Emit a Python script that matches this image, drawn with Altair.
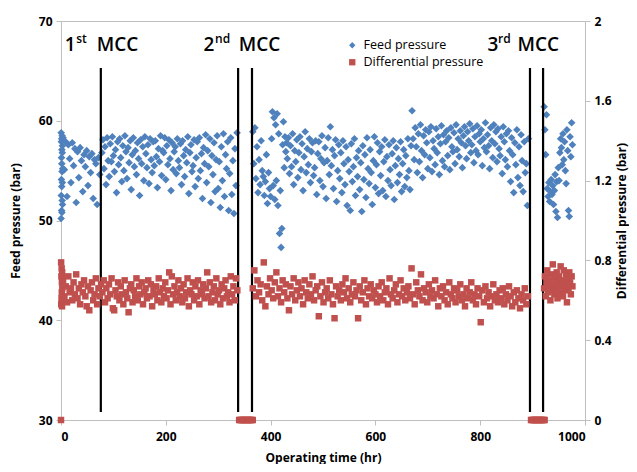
import altair as alt
import pandas as pd

BLUE = "#4f81bd"
RED = "#c0504d"
FONT = "Open Sans"

# ---------------- Feed pressure (bar) ----------------
# each segment: start time, time step
feed_a_start, feed_a_step = 0.2, 0.15
feed_a = [50.2, 58.8, 52.5, 57.9, 54.1, 56.3, 51.0, 58.2, 53.4, 55.7,
          57.1, 50.8, 54.9, 58.5, 52.0, 56.8, 53.8, 57.5, 51.6, 55.2]

feed_b_start, feed_b_step = 4, 2.5
feed_b = [58.3, 55.1, 57.9, 52.4, 57.6, 56.2, 53.8, 57.8, 55.5, 57.2,
          51.8, 56.9, 54.3, 57.3, 56.0, 52.9, 56.6, 55.4, 57.0, 53.5,
          56.4, 54.8, 56.7, 52.2, 56.1, 55.7, 51.6, 56.3, 54.6]

feed_c_start, feed_c_step = 78, 2
feed_c = [56.8, 58.1, 55.2, 57.4, 53.6, 58.3, 56.0, 54.4, 57.7, 55.9,
          58.4, 56.5, 54.9, 57.1, 52.8, 57.9, 55.6, 58.2, 56.3, 53.9,
          57.5, 55.0, 58.5, 56.9, 54.2, 57.3, 55.8, 58.0, 53.1, 56.6,
          58.3, 55.4, 57.0, 54.6, 57.8, 56.2, 52.5, 58.1, 55.7, 57.4,
          54.0, 58.4, 56.7, 55.3, 57.6, 53.7, 58.2, 56.1, 54.8, 57.9,
          55.5, 58.0, 56.4, 53.3, 57.2, 55.9, 58.5, 54.5, 57.0, 56.8,
          58.3, 54.1, 57.5, 55.6, 58.1, 56.2, 53.0, 57.8, 55.1, 56.9,
          57.4, 54.7, 58.2, 56.0, 55.3, 57.7, 53.6, 58.0, 56.5, 54.4,
          57.1, 55.8, 58.4, 52.7, 56.8, 57.6, 54.9, 55.5, 58.1, 53.4,
          56.3, 57.9, 54.2, 58.3, 55.0, 56.7, 52.2, 57.3, 55.7, 58.6,
          53.8, 57.0, 55.4, 58.2, 51.8, 56.5, 54.6, 57.8, 52.9, 56.1,
          58.5, 53.2, 55.9, 51.3, 57.4, 54.0, 58.7, 52.4, 56.6, 55.2,
          57.9, 51.0, 54.7, 58.3, 52.6, 56.0, 50.7, 57.2, 53.5, 58.8]

feed_d_start, feed_d_step = 366, 2
feed_d = [58.9, 55.7, 59.3, 54.2, 57.4, 52.8, 56.1, 53.6, 58.0, 55.0,
          54.4, 52.5, 53.9, 56.6, 51.7, 54.8, 53.2, 52.4]

feed_e_start, feed_e_step = 402, 1.5
feed_e = [58.2, 60.9, 53.5, 60.3, 52.1, 59.6, 54.0, 60.7, 51.5, 58.7,
          48.7, 53.0, 47.3, 49.2, 57.6, 59.9, 55.3, 58.4, 56.9, 57.8]

feed_f_start, feed_f_step = 432, 2
feed_f = [56.2, 58.3, 54.7, 57.5, 55.4, 58.7, 53.6, 57.0, 55.9, 58.1,
          54.3, 56.8, 58.4, 55.1, 57.7, 53.0, 56.4, 58.9, 54.8, 57.2,
          55.6, 58.2, 53.8, 56.9, 57.8, 54.5, 55.3, 58.0, 52.6, 56.7,
          57.9, 54.0, 56.2, 58.5, 53.4, 55.8, 57.3, 52.2, 56.0, 58.3,
          54.6, 59.4, 55.5, 57.1, 53.2, 56.5, 58.1, 51.9, 55.0, 57.6,
          54.2, 56.8, 52.8, 58.0, 55.7, 53.6, 57.4, 51.5, 56.1, 54.9,
          51.0, 57.7, 53.9, 55.4, 58.2, 52.5, 56.3, 54.4, 57.0, 53.1,
          55.8, 50.9, 57.5, 54.1, 56.6, 52.3, 58.3, 55.2, 53.7, 57.1,
          54.8, 51.6, 56.0, 58.4, 53.3, 55.6, 57.8, 52.7, 56.9, 54.5,
          57.4, 53.0, 55.9, 58.1, 52.4, 56.4, 54.0, 57.6, 55.1, 53.5,
          56.7, 58.0, 52.1, 55.5, 57.3, 53.8, 56.2, 54.6, 57.9, 52.9,
          55.7, 57.1, 53.4, 56.5, 54.3, 58.2, 55.0, 53.1, 57.5]

feed_g_start, feed_g_step = 670, 2
feed_g = [61.0, 58.2, 56.1, 59.3, 57.4, 54.8, 58.7, 55.9, 59.6, 57.0,
          54.3, 58.5, 56.6, 59.1, 57.8, 55.2, 58.9, 56.3, 59.4, 54.9,
          58.0, 57.2, 55.6, 59.2, 56.8, 58.4, 54.6, 57.7, 59.5, 56.0,
          58.6, 55.4, 57.9, 59.0, 56.5, 58.3, 55.1, 59.3, 57.4, 56.9,
          58.8, 55.7, 59.6, 57.1, 58.2, 56.4, 59.0, 57.8, 55.3, 58.5,
          59.4, 57.5, 56.2, 58.9, 58.0, 59.7, 56.8, 57.6, 59.2, 55.8,
          58.4, 57.0, 59.5, 56.6, 58.7, 57.9, 59.1, 55.5, 58.2, 57.3,
          59.8, 56.9, 58.6, 57.5, 55.2, 59.3, 58.0, 56.3, 59.6, 57.7,
          58.9, 55.9, 59.2, 57.2, 56.5, 58.4, 54.7, 59.4, 57.9, 56.1,
          58.7, 55.4, 59.0, 57.0, 53.9, 58.3, 56.6, 52.8, 57.8, 55.6,
          59.1, 54.3, 57.4, 53.5, 58.6, 56.0, 52.9, 57.9, 54.8, 55.7,
          51.5, 58.2]

feed_h_start, feed_h_step = 922, 1.5
feed_h = [61.4, 59.1, 56.6, 60.6, 53.2, 52.4, 53.8, 51.9, 52.9, 54.1,
          52.6, 53.5, 51.6, 53.0, 54.6, 50.9, 53.9, 50.3, 55.3, 54.0,
          56.8, 58.2, 57.3, 55.6, 58.7, 56.1, 57.9, 55.0, 53.7, 59.1,
          57.0, 51.0, 50.4, 58.4, 56.4, 59.8, 57.6]

# ---------------- Differential pressure (bar) ----------------
diff_a_start, diff_a_step = 0.25, 0.25
diff_a = [0.79, 0.58, 0.72, 0.61, 0.76, 0.64, 0.69, 0.57, 0.74, 0.66, 0.60, 0.71]

diff_b_start, diff_b_step = 4, 2.5
diff_b = [0.70, 0.62, 0.67, 0.59, 0.72, 0.64, 0.66, 0.60, 0.69, 0.63,
          0.73, 0.61, 0.66, 0.58, 0.68, 0.64, 0.70, 0.62, 0.57, 0.67,
          0.55, 0.65, 0.69, 0.60, 0.63, 0.71, 0.58, 0.66, 0.62, 0.68,
          0.64, 0.70, 0.59, 0.66, 0.61, 0.68, 0.63, 0.71, 0.56, 0.55,
          0.65, 0.62, 0.69, 0.60, 0.67, 0.63, 0.58, 0.70, 0.64, 0.61,
          0.54, 0.66, 0.68, 0.59, 0.65, 0.62, 0.71, 0.60, 0.67, 0.63,
          0.69, 0.58, 0.64, 0.66, 0.61, 0.70, 0.62, 0.68, 0.57, 0.65,
          0.63, 0.67, 0.60, 0.71, 0.64, 0.59, 0.66, 0.62, 0.69, 0.61,
          0.65, 0.74, 0.58, 0.72, 0.63, 0.67, 0.60, 0.64, 0.70, 0.62,
          0.66, 0.59, 0.68, 0.61, 0.64, 0.71, 0.57, 0.65, 0.63, 0.69,
          0.60, 0.67, 0.62, 0.70, 0.58, 0.65, 0.63, 0.68, 0.61, 0.66,
          0.74, 0.62, 0.69, 0.59, 0.64, 0.67, 0.60, 0.71, 0.63, 0.65,
          0.58, 0.68, 0.61, 0.66, 0.70, 0.62, 0.64, 0.59, 0.72, 0.63,
          0.67, 0.60, 0.71, 0.65]

diff_c_start, diff_c_step = 366, 3
diff_c = [0.66, 0.75, 0.62, 0.70, 0.64, 0.68, 0.60, 0.79, 0.57, 0.67,
          0.63, 0.71, 0.65, 0.61, 0.69, 0.74, 0.62, 0.66, 0.59, 0.70,
          0.64, 0.68, 0.61, 0.55, 0.67, 0.63, 0.71, 0.60, 0.65, 0.69,
          0.62, 0.66, 0.58, 0.70, 0.64, 0.61, 0.68, 0.63, 0.72, 0.60,
          0.65, 0.67, 0.52, 0.62, 0.69, 0.59, 0.64, 0.66, 0.61, 0.70,
          0.63, 0.58, 0.51, 0.67, 0.62, 0.65, 0.60, 0.68, 0.64, 0.71,
          0.61, 0.66, 0.59, 0.63, 0.69, 0.62, 0.65, 0.51, 0.67, 0.60,
          0.64, 0.70, 0.58, 0.66, 0.62, 0.68, 0.61, 0.65, 0.63, 0.59,
          0.67, 0.62, 0.69, 0.60, 0.64, 0.66, 0.58, 0.71, 0.63, 0.61,
          0.65, 0.68, 0.59, 0.63, 0.70, 0.62, 0.66, 0.60, 0.64, 0.67,
          0.61, 0.76, 0.63, 0.58, 0.69, 0.65, 0.62, 0.73, 0.60, 0.66,
          0.64, 0.59, 0.68, 0.62, 0.65, 0.61, 0.70, 0.63, 0.57, 0.66,
          0.62, 0.67, 0.60, 0.64, 0.58, 0.69, 0.63, 0.61, 0.66, 0.59,
          0.65, 0.62, 0.68, 0.60, 0.63, 0.57, 0.66, 0.61, 0.64, 0.69,
          0.60, 0.63, 0.58, 0.66, 0.62, 0.49, 0.65, 0.59, 0.67, 0.61,
          0.64, 0.57, 0.62, 0.68, 0.60, 0.63, 0.59, 0.65, 0.61, 0.66,
          0.58, 0.63, 0.60, 0.67, 0.62, 0.57, 0.64, 0.59, 0.65, 0.61,
          0.56, 0.63, 0.60, 0.66, 0.58, 0.62]

diff_d_start, diff_d_step = 922, 1.5
diff_d = [0.66, 0.72, 0.62, 0.69, 0.75, 0.64, 0.70, 0.67, 0.60, 0.73,
          0.65, 0.78, 0.68, 0.63, 0.71, 0.66, 0.74, 0.61, 0.69, 0.72,
          0.64, 0.77, 0.67, 0.70, 0.62, 0.75, 0.68, 0.65, 0.73, 0.59,
          0.71, 0.66, 0.74, 0.69, 0.63, 0.72, 0.67]

# shutdown periods: differential pressure at zero
diff_zero_t = [0, 340, 342, 344, 346, 348, 350, 352, 354, 356, 358, 360, 362, 364, 366,
               897, 899, 901, 903, 905, 907, 909, 911, 913, 915, 917, 919, 921, 923]

# membrane chemical cleaning (MCC) markers
mcc_t = [76, 338, 364.5, 895, 920]
mcc_top, mcc_bottom = 65.3, 30.8

labels_num = ["1", "2", "3"]
labels_num_t = [7, 272, 814]
labels_sup = ["st", "nd", "rd"]
labels_sup_t = [29, 294, 834]
labels_mcc_t = [68, 339, 871]
label_y, sup_y = 67.0, 67.8


def build(segments, name):
    rows = []
    for start, step, vals in segments:
        for i, v in enumerate(vals):
            rows.append({"t": start + i * step, "v": v, "series": name})
    return rows


feed_rows = build([(feed_a_start, feed_a_step, feed_a), (feed_b_start, feed_b_step, feed_b),
                   (feed_c_start, feed_c_step, feed_c), (feed_d_start, feed_d_step, feed_d),
                   (feed_e_start, feed_e_step, feed_e), (feed_f_start, feed_f_step, feed_f),
                   (feed_g_start, feed_g_step, feed_g), (feed_h_start, feed_h_step, feed_h)],
                  "Feed pressure")
diff_rows = build([(diff_a_start, diff_a_step, diff_a), (diff_b_start, diff_b_step, diff_b),
                   (diff_c_start, diff_c_step, diff_c), (diff_d_start, diff_d_step, diff_d)],
                  "Differential pressure")
diff_rows += [{"t": t, "v": 0.0, "series": "Differential pressure"} for t in diff_zero_t]

feed_df = pd.DataFrame(feed_rows)
diff_df = pd.DataFrame(diff_rows)
mcc_df = pd.DataFrame({"t": mcc_t, "top": [mcc_top] * len(mcc_t), "bottom": [mcc_bottom] * len(mcc_t)})
num_df = pd.DataFrame({"t": labels_num_t, "y": [label_y] * 3, "txt": labels_num})
sup_df = pd.DataFrame({"t": labels_sup_t, "y": [sup_y] * 3, "txt": labels_sup})
mcc_lbl_df = pd.DataFrame({"t": labels_mcc_t, "y": [label_y] * 3, "txt": ["MCC"] * 3})

series_domain = ["Feed pressure", "Differential pressure"]

x_enc = alt.X("t:Q", scale=alt.Scale(domain=[0, 1000], nice=False),
              axis=alt.Axis(values=[0, 200, 400, 600, 800, 1000], format="d",
                            title="Operating time (hr)", titlePadding=10, labelPadding=6))

left_scale = alt.Scale(domain=[30, 70], nice=False)
left_axis = alt.Axis(values=[30, 40, 50, 60, 70], title="Feed pressure (bar)", titlePadding=16,
                     labelPadding=4, labelFlush=False)

color_enc = alt.Color("series:N", scale=alt.Scale(domain=series_domain, range=[BLUE, RED]),
                      legend=alt.Legend(title=None, orient="none", legendX=285, legendY=18,
                                        labelFont=FONT, labelFontSize=12.5, labelColor="#000000",
                                        labelFontWeight=500,
                                        symbolSize=40, rowPadding=4, padding=0, labelOffset=5))
shape_enc = alt.Shape("series:N", scale=alt.Scale(domain=series_domain, range=["diamond", "square"]),
                      legend=None)

feed_layer = alt.Chart(feed_df).mark_point(filled=True, size=58, opacity=1).encode(
    x=x_enc,
    y=alt.Y("v:Q", scale=left_scale, axis=left_axis),
    color=color_enc,
    shape=shape_enc,
)

rules = alt.Chart(mcc_df).mark_rule(color="black", strokeWidth=2.2).encode(
    x="t:Q",
    y=alt.Y("top:Q", scale=left_scale, axis=left_axis),
    y2="bottom:Q",
)

num_text = alt.Chart(num_df).mark_text(align="left", baseline="alphabetic", font=FONT,
                                       fontSize=19, fontWeight=600, color="#000000").encode(
    x="t:Q", y=alt.Y("y:Q", scale=left_scale, axis=left_axis), text="txt:N")
sup_text = alt.Chart(sup_df).mark_text(align="left", baseline="alphabetic", font=FONT,
                                       fontSize=12, fontWeight=600, color="#000000").encode(
    x="t:Q", y=alt.Y("y:Q", scale=left_scale, axis=left_axis), text="txt:N")
mcc_text = alt.Chart(mcc_lbl_df).mark_text(align="left", baseline="alphabetic", font=FONT,
                                           fontSize=19, fontWeight=600, color="#000000").encode(
    x="t:Q", y=alt.Y("y:Q", scale=left_scale, axis=left_axis), text="txt:N")

left = alt.layer(feed_layer, rules, num_text, sup_text, mcc_text)

diff_layer = alt.Chart(diff_df).mark_point(filled=True, size=42, opacity=1).encode(
    x=x_enc,
    y=alt.Y("v:Q", scale=alt.Scale(domain=[0, 2], nice=False),
            axis=alt.Axis(orient="right", values=[0, 0.4, 0.8, 1.2, 1.6, 2], format="~g",
                          title="Differential pressure (bar)", titleAngle=270, titlePadding=17,
                          labelPadding=4, labelFlush=False)),
    color=color_enc,
    shape=shape_enc,
)

chart = alt.layer(left, diff_layer).resolve_scale(y="independent").properties(
    width=524, height=399,
    padding={"left": 53, "top": 13, "right": 44, "bottom": 44},
    autosize=alt.AutoSizeParams(type="none"),
).configure_view(stroke="#bfbfbf", strokeWidth=1).configure_axis(
    grid=False,
    domainColor="#bfbfbf",
    tickColor="#bfbfbf",
    tickSize=5,
    labelFont=FONT,
    labelFontSize=12,
    labelFontWeight="bold",
    labelColor="#000000",
    titleFont=FONT,
    titleFontSize=12,
    titleFontWeight="bold",
    titleColor="#000000",
)

chart.save("out.html", embed_options={"renderer": "svg", "actions": False})
